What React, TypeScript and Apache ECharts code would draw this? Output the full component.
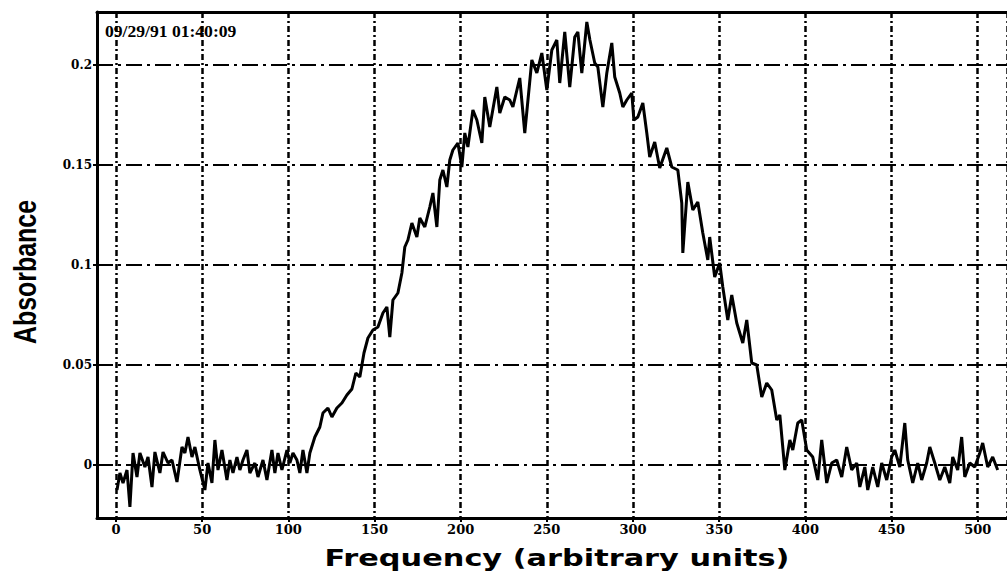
import { useEffect, useRef } from "react";
import * as echarts from "echarts";

const frequency = [
  0.6, 2.3, 4.1, 6.4, 8.1, 9.9, 12.2, 13.9, 16.8, 18.6, 20.9, 22.6, 25.5, 27.3, 30.2, 32.5, 35.4, 38.3, 40.0, 41.8,
  44.1, 45.8, 48.7, 51.6, 53.4, 55.7, 57.4, 59.2, 61.5, 64.4, 66.1, 67.9, 70.2, 71.9, 73.7, 76.0, 77.7, 80.6, 82.4,
  85.3, 87.6, 90.5, 92.2, 94.0, 96.3, 99.2, 100.9, 102.7, 105.0, 106.7, 108.5, 110.8, 112.5, 115.4, 118.3,
  120.1, 123.0, 125.3, 128.2, 131.1, 134.0, 136.9, 139.2, 141.5, 143.9, 146.2, 149.1, 152.0, 154.9, 157.2, 158.9,
  160.7, 163.6, 165.9, 167.6, 169.4, 171.7, 174.6, 176.3, 179.2, 182.1, 183.9, 186.2, 187.9, 189.7, 192.0, 193.7,
  195.5, 198.4, 200.7, 202.4, 204.2, 207.1, 209.4, 212.3, 214.0, 216.9, 221.0, 222.7, 225.6, 228.5, 230.3, 234.3,
  237.2, 241.3, 244.2, 247.1, 250.0, 252.9, 255.8, 257.5, 260.4, 263.3, 266.2, 268.0, 270.3, 273.2, 275.0, 277.8,
  279.6, 282.5, 284.8, 287.7, 289.4, 292.3, 294.1, 296.4, 299.3, 300.5, 302.8, 305.7, 308.0, 309.7, 312.6, 315.5,
  319.6, 322.5, 326.0, 328.3, 328.9, 331.8, 334.7, 337.6, 340.5, 343.4, 344.5, 347.4, 350.3, 352.1, 355.0, 357.3,
  360.2, 363.7, 366.0, 368.9, 371.8, 374.7, 377.6, 380.5, 383.4, 385.2, 388.1, 391.0, 392.7, 395.6, 397.9, 400.8,
  404.3, 407.2, 409.5, 412.4, 415.3, 418.2, 421.1, 424.0, 426.9, 429.8, 431.6, 434.5, 436.2, 439.1, 442.0, 444.3,
  447.2, 450.1, 451.9, 454.8, 457.7, 459.4, 462.3, 465.2, 467.5, 470.4, 472.2, 475.1, 478.0, 480.9, 483.8, 485.5,
  488.4, 490.7, 492.5, 495.4, 498.3, 501.2, 502.9, 505.8, 508.7, 511.6,
];

const absorbance = [
  -0.0125, -0.004, -0.009, -0.0025, -0.021, 0.006, -0.006, 0.006, -0.001, 0.004, -0.011, 0.0065, -0.004, 0.0065, 0.001,
  0.0025, -0.0085, 0.009, 0.006, 0.014, 0.004, 0.009, -0.0025, -0.0125, 0.001, -0.009, 0.0125, -0.0025, 0.0075,
  -0.0075, 0.0025, -0.004, 0.004, -0.0025, 0.0025, 0.0075, -0.004, 0.001, -0.006, 0.0025, -0.0075, 0.0075, -0.004,
  0.006, -0.0025, 0.0075, 0.001, 0.006, 0.0025, -0.004, 0.0075, -0.004, 0.006, 0.014, 0.019,
  0.026, 0.0285, 0.024, 0.0285, 0.031, 0.035, 0.038, 0.046, 0.044, 0.056, 0.0635, 0.0675, 0.069, 0.076, 0.079, 0.064,
  0.0825, 0.086, 0.096, 0.109, 0.1125, 0.121, 0.114, 0.1235, 0.119, 0.129, 0.136, 0.119, 0.1425, 0.1475, 0.139, 0.1525,
  0.1575, 0.161, 0.149, 0.166, 0.159, 0.1775, 0.1725, 0.161, 0.184, 0.169, 0.189, 0.176, 0.184, 0.1825, 0.179, 0.1935,
  0.166, 0.2025, 0.196, 0.206, 0.1875, 0.2075, 0.2125, 0.191, 0.2165, 0.189, 0.214, 0.2165, 0.196, 0.2215, 0.2125, 0.201,
  0.199, 0.179, 0.196, 0.211, 0.194, 0.186, 0.179, 0.1825, 0.186, 0.1725, 0.174, 0.181, 0.166, 0.154, 0.1615, 0.1485,
  0.1585, 0.149, 0.1475, 0.131, 0.106, 0.1415, 0.1275, 0.1315, 0.116, 0.1025, 0.114, 0.094, 0.101, 0.089, 0.0725, 0.085,
  0.071, 0.061, 0.0725, 0.051, 0.05, 0.034, 0.041, 0.0375, 0.0225, 0.025, -0.0025, 0.0125, 0.0075, 0.021, 0.0225, 0.0075,
  0.004, -0.0075, 0.0125, -0.009, 0.001, 0.0025, -0.006, 0.009, -0.0025, 0.001, -0.011, -0.001, -0.0125, -0.001, -0.011, 0.001,
  -0.0075, 0.004, 0.0075, -0.001, 0.021, 0.0025, -0.009, 0.001, -0.0075, 0.001, 0.009, 0.001, -0.0075, -0.001, -0.009, 0.004,
  -0.0025, 0.014, -0.006, 0.001, -0.001, 0.006, 0.011, -0.001, 0.004, -0.0025,
];

const stampText = "09/29/91 01:40:09";
const xTitle = "Frequency (arbitrary units)";
const yTitle = "Absorbance";

export default function App() {
  const ref = useRef<HTMLDivElement>(null);

  useEffect(() => {
    if (!ref.current) return;
    const chart = echarts.init(ref.current, null, { renderer: "svg" });
    const data = frequency.map((f, i) => [f, absorbance[i]]);
    const labelStyle = {
      color: "#000",
      fontFamily: "DejaVu Serif",
      fontWeight: "bold" as const,
    };
    chart.setOption({
      animation: false,
      backgroundColor: "#fff",
      grid: { left: 97, top: 12, right: 0, bottom: 54, containLabel: false },
      xAxis: [
        {
          type: "value",
          min: -11,
          max: 517,
          splitNumber: 10,
          position: "bottom",
          axisLine: { show: true, onZero: false, lineStyle: { color: "#000", width: 3 } },
          axisTick: { show: true, length: 4, lineStyle: { color: "#000", width: 2 } },
          axisLabel: { ...labelStyle, fontSize: 13, margin: 5, showMinLabel: false, showMaxLabel: false },
          splitLine: { show: true, lineStyle: { color: "#000", width: 2.5, type: [6, 3, 2, 3] } },
        },
        {
          type: "value",
          min: -11,
          max: 517,
          position: "top",
          axisLine: { show: true, onZero: false, lineStyle: { color: "#000", width: 3 } },
          axisTick: { show: false },
          axisLabel: { show: false },
          splitLine: { show: false },
        },
      ],
      yAxis: {
        type: "value",
        min: -0.0265,
        max: 0.2265,
        splitNumber: 5,
        axisLine: { show: true, onZero: false, lineStyle: { color: "#000", width: 3 } },
        axisTick: { show: true, length: 4, lineStyle: { color: "#000", width: 2 } },
        axisLabel: { ...labelStyle, fontSize: 12, margin: 5, showMinLabel: false, showMaxLabel: false },
        splitLine: { show: true, lineStyle: { color: "#000", width: 2, type: [16, 5, 3, 5] } },
      },
      series: [
        {
          type: "line",
          data,
          showSymbol: false,
          symbol: "none",
          lineStyle: { color: "#000", width: 3 },
          z: 5,
        },
      ],
      graphic: [
        {
          type: "text",
          x: 105,
          y: 32,
          z: 10,
          scaleX: 1.1,
          style: {
            text: stampText,
            fill: "#000",
            font: 'bold 16px "Liberation Serif"',
            align: "left",
            verticalAlign: "middle",
          },
        },
        {
          type: "text",
          x: 25,
          y: 272,
          rotation: Math.PI / 2,
          scaleX: 0.78,
          style: {
            text: yTitle,
            fill: "#000",
            font: 'bold 32px "Liberation Sans"',
            align: "center",
            verticalAlign: "middle",
          },
        },
        {
          type: "text",
          x: 557,
          y: 558,
          scaleX: 1.32,
          style: {
            text: xTitle,
            fill: "#000",
            font: 'bold 23px "DejaVu Sans"',
            align: "center",
            verticalAlign: "middle",
          },
        },
      ],
    });
    return () => chart.dispose();
  }, []);

  return (
    <div
      ref={ref}
      style={{ position: "fixed", left: 0, top: 0, width: 1007, height: 572, background: "#fff" }}
    />
  );
}
